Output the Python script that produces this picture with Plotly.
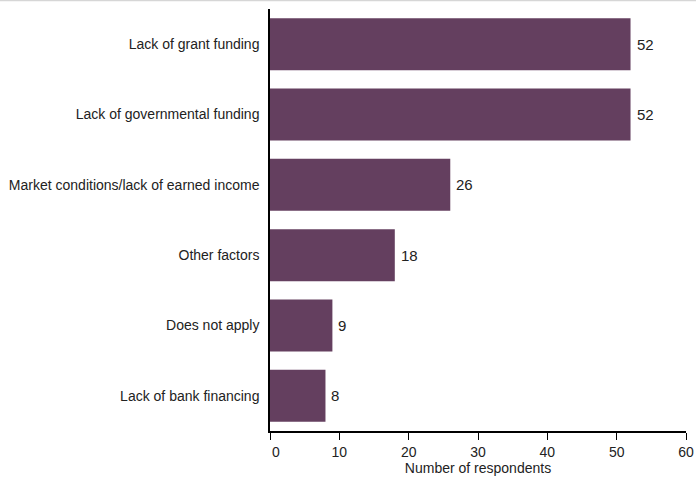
import plotly.graph_objects as go

categories = ["Lack of grant funding", "Lack of governmental funding",
              "Market conditions/lack of earned income", "Other factors",
              "Does not apply", "Lack of bank financing"]
values = [52, 52, 26, 18, 9, 8]
x_ticks = [0, 10, 20, 30, 40, 50, 60]
x_tick_text = ["\u00a0\u00a0\u00a00", "10", "20", "30", "40", "50", "60"]

FONT = "Liberation Sans, Arial, sans-serif"
FS = 14
TXT = "#222222"
BAR = "#643f5f"

fig = go.Figure(go.Bar(
    x=values, y=categories, orientation="h",
    marker=dict(color=BAR, line=dict(width=0)),
    hoverinfo="skip",
))

annotations = [
    dict(x=v, y=c, xref="x", yref="y", text=str(v), showarrow=False,
         xanchor="left", yanchor="middle", xshift=4,
         font=dict(family=FONT, size=15, color=TXT))
    for c, v in zip(categories, values)
]

fig.update_layout(
    width=696, height=482,
    margin=dict(l=270, r=10, t=9, b=51, autoexpand=False),
    paper_bgcolor="white", plot_bgcolor="white",
    bargap=0.26,
    font=dict(family=FONT, size=FS, color=TXT),
    showlegend=False,
    annotations=annotations,
    shapes=[dict(type="line", xref="paper", yref="paper",
                 x0=-1, x1=2, y0=1 + 8.5 / 422, y1=1 + 8.5 / 422,
                 line=dict(color="#d6d6d6", width=1.5))],
    xaxis=dict(
        range=[0, 60], tickvals=x_ticks, ticktext=x_tick_text,
        ticks="outside", ticklen=7,
        tickcolor="black", tickwidth=1,
        showline=True, linecolor="black", linewidth=1.5,
        showgrid=False, zeroline=False, automargin=False,
        ticklabeloverflow="allow",
        title=dict(text="Number of respondents", standoff=4,
                   font=dict(family=FONT, size=FS, color=TXT)),
        tickfont=dict(family=FONT, size=FS, color=TXT),
    ),
    yaxis=dict(
        categoryorder="array", categoryarray=categories,
        autorange="reversed", automargin=False,
        showline=True, linecolor="black", linewidth=1.5,
        showgrid=False, zeroline=False, ticks="",
        ticklabelstandoff=6,
        tickfont=dict(family=FONT, size=FS, color=TXT),
    ),
)

fig.write_html("out.html")
